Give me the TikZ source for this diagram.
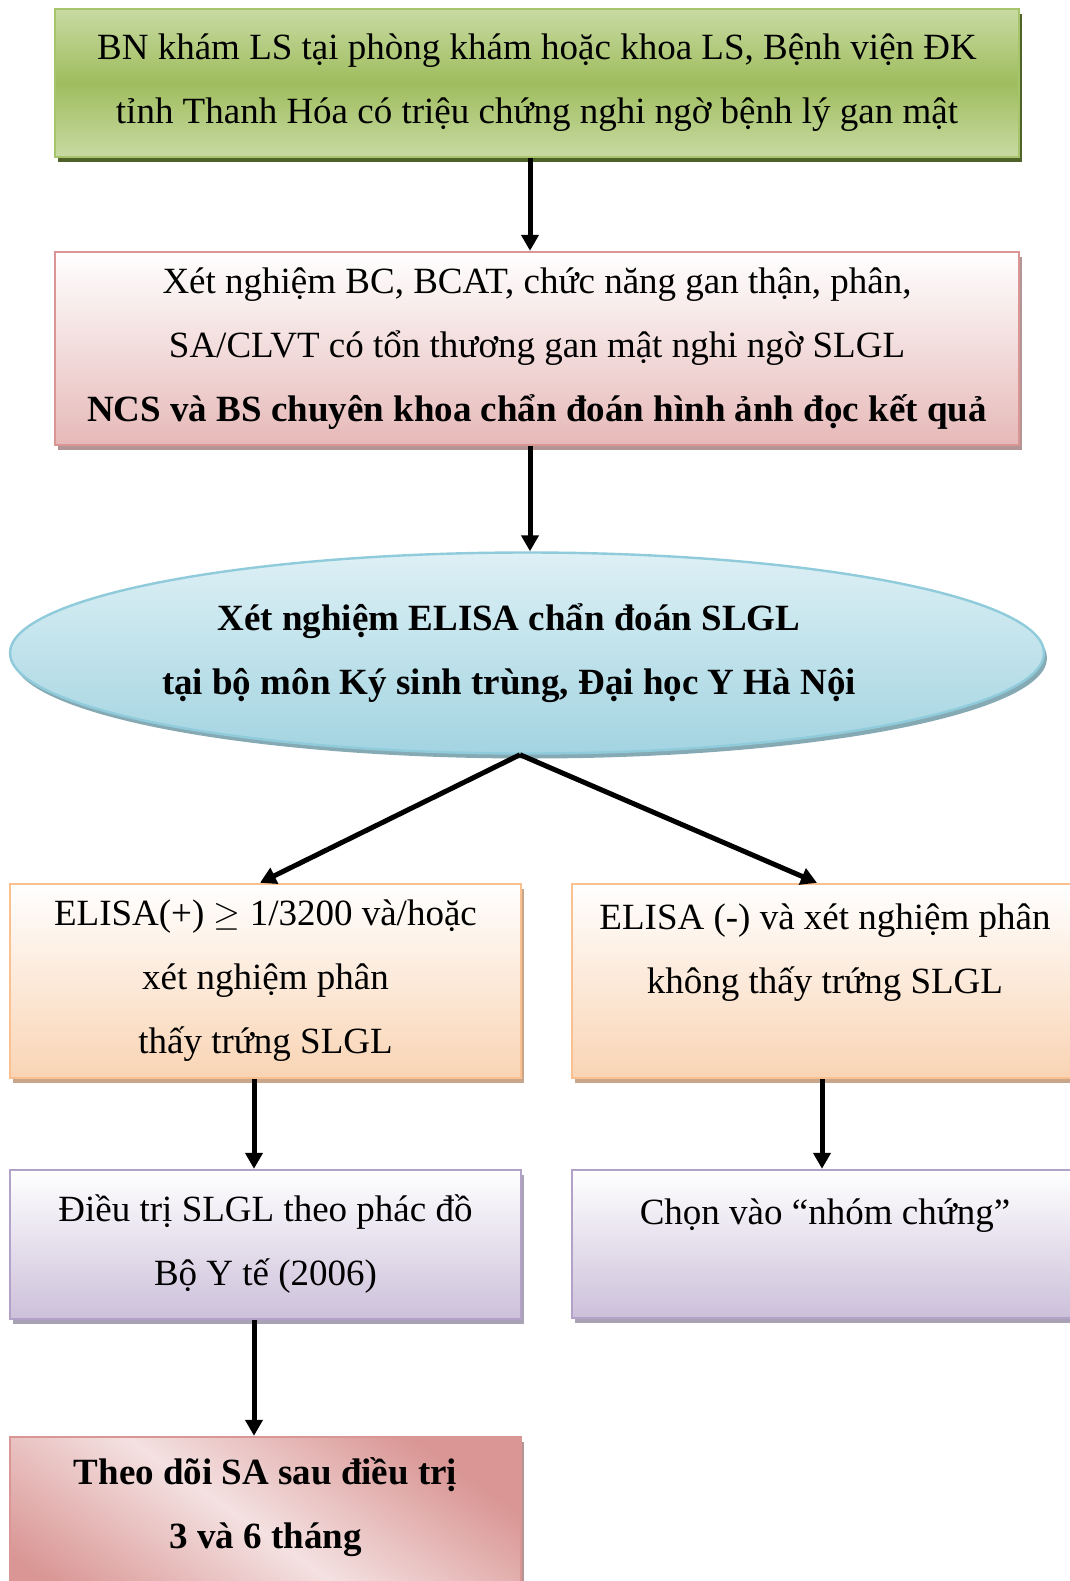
\documentclass[tikz,border=0pt]{standalone}
\usepackage{fontspec}
\setmainfont{Liberation Serif}
\usepackage{xcolor}
\usetikzlibrary{arrows.meta,shadows,shapes.geometric}

\definecolor{grnL}{HTML}{C8DAA2}
\definecolor{grnM}{HTML}{9FBD5E}
\definecolor{grnB}{HTML}{A6C46C}
\definecolor{grnS}{HTML}{4F6228}
\definecolor{pnkB}{HTML}{D99694}
\definecolor{pnkF}{HTML}{E6B9B8}
\definecolor{pnkL}{HTML}{F4E1E1}
\definecolor{pnkS}{HTML}{B39595}
\definecolor{bluL}{HTML}{DDF0F5}
\definecolor{bluD}{HTML}{A3D4E1}
\definecolor{bluB}{HTML}{8FCBDB}
\definecolor{bluS}{HTML}{86AAB4}
\definecolor{orgB}{HTML}{FAC090}
\definecolor{orgF}{HTML}{F9D4B4}
\definecolor{orgS}{HTML}{C9A68A}
\definecolor{purB}{HTML}{B2A2C7}
\definecolor{purF}{HTML}{CCC0DA}
\definecolor{purS}{HTML}{A9A1B4}

\begin{document}
\begin{tikzpicture}[x=0.5pt, y=-0.5pt,
  every node/.style={font=\fontsize{18.5}{32}\selectfont, align=center, inner sep=0pt},
  shbox/.style={drop shadow={shadow xshift=1.5pt, shadow yshift=-2.5pt, fill=#1, opacity=1}},
  greenbox/.style={draw=grnB, line width=1.2pt, top color=grnL, bottom color=grnL, middle color=grnM, shbox=grnS},
  pinkbox/.style={draw=pnkB, line width=1.2pt, top color=white, bottom color=pnkF, shbox=pnkS},
  bluebox/.style={ellipse, draw=bluB, line width=1.2pt, top color=bluL, bottom color=bluD, shbox=bluS},
  orangebox/.style={draw=orgB, line width=1.2pt, top color=white, bottom color=orgF, shbox=orgS},
  purplebox/.style={draw=purB, line width=1.2pt, top color=white, bottom color=purF, shbox=purS},
  redbox/.style={draw=pnkB, line width=1.2pt, top color=pnkB, bottom color=pnkB, middle color=pnkL, shading angle=-35, shbox=pnkS},
  arr/.style={line width=2.5pt, -{Triangle[length=8pt, width=8.5pt]}}]
\clip (0,0) rectangle (1070,1581);

\node[greenbox, minimum width=482pt, minimum height=74pt] (kham) at (537,83)
  {BN khám LS tại phòng khám hoặc khoa LS, Bệnh viện ĐK\\
   tỉnh Thanh Hóa có triệu chứng nghi ngờ bệnh lý gan mật};
\node[pinkbox, minimum width=482pt, minimum height=96.5pt] (xn) at (537,348.5)
  {Xét nghiệm BC, BCAT, chức năng gan thận, phân,\\
   SA/CLVT có tổn thương gan mật nghi ngờ SLGL\\
   \textbf{NCS và BS chuyên khoa chẩn đoán hình ảnh đọc kết quả}};
\node[bluebox, minimum width=517pt, minimum height=100.5pt] (elisa) at (527,653)
  {\textbf{Xét nghiệm ELISA chẩn đoán SLGL}\hspace*{18pt}\\
   \textbf{tại bộ môn Ký sinh trùng, Đại học Y Hà Nội}\hspace*{18pt}};
\node[orangebox, minimum width=255.5pt, minimum height=97pt] (duong) at (265.5,981)
  {ELISA(+) $\geq$ 1/3200 và/hoặc\\ xét nghiệm phân\\ thấy trứng SLGL};
\node[orangebox, minimum width=253pt, minimum height=97pt] (am) at (825,981)
  {ELISA (-) và xét nghiệm phân\\ không thấy trứng SLGL\\ ~};
\node[purplebox, minimum width=255.5pt, minimum height=74.5pt] (dieutri) at (265.5,1244.5)
  {Điều trị SLGL theo phác đồ\\ Bộ Y tế (2006)};
\node[purplebox, minimum width=253pt, minimum height=74pt] (chung) at (825,1244)
  {Chọn vào “nhóm chứng”\\ ~};
\node[redbox, minimum width=255.5pt, minimum height=98pt] (theodoi) at (265.5,1535)
  {\textbf{Theo dõi SA sau điều trị}\\ \textbf{3 và 6 tháng}\\ ~};

\coordinate (c1) at (530,0);
\coordinate (c2) at (254,0);
\coordinate (c3) at (822,0);
\draw[arr] (kham.south -| c1) -- (xn.north -| c1);
\draw[arr] (xn.south -| c1) -- (elisa.north -| c1);
\draw[arr] ([xshift=-3.5pt]elisa.south) -- ([xshift=-2.75pt]duong.north);
\draw[arr] ([xshift=-3.5pt]elisa.south) -- ([xshift=-4pt]am.north);
\draw[arr] (duong.south -| c2) -- (dieutri.north -| c2);
\draw[arr] (am.south -| c3) -- (chung.north -| c3);
\draw[arr] (dieutri.south -| c2) -- (theodoi.north -| c2);
\end{tikzpicture}
\end{document}
